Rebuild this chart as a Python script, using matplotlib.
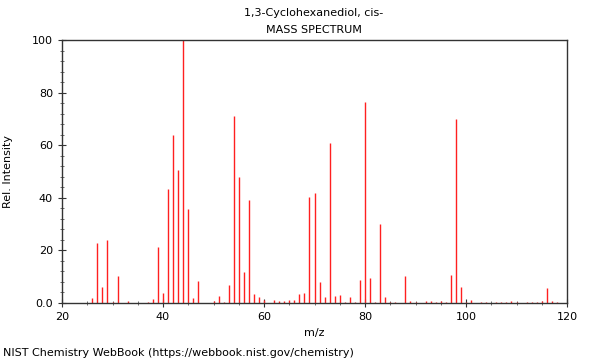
import matplotlib
matplotlib.use("Agg")
from matplotlib import pyplot as plt
from matplotlib.ticker import MultipleLocator, FixedLocator, FixedFormatter

# m/z peaks and relative intensities
mz = [26, 27, 28, 29, 30, 31, 33, 37, 38, 39, 40, 41, 42, 43, 44, 45, 46, 47,
      50, 51, 52, 53, 54, 55, 56, 57, 58, 59, 60, 62, 63, 64, 65, 66, 67, 68,
      69, 70, 71, 72, 73, 74, 75, 76, 77, 78, 79, 80, 81, 82, 83, 84, 85, 86,
      88, 89, 90, 92, 93, 94, 95, 96, 97, 98, 99, 100, 101, 103, 104, 106,
      107, 108, 109, 110, 112, 113, 114, 115, 116, 117, 118]
intensity = [2.0, 22.9, 6.2, 24.0, 0.5, 10.4, 0.8, 0.5, 1.4, 21.3, 3.9, 43.3,
             63.9, 50.6, 100.0, 35.7, 1.8, 8.5,
             0.9, 2.8, 0.5, 6.8, 71.1, 48.0, 11.8, 39.2, 3.5, 2.2, 1.1, 1.0,
             0.8, 0.6, 1.1, 1.1, 3.3, 3.8,
             40.3, 41.9, 8.1, 2.4, 60.7, 2.7, 2.9, 0.5, 2.4, 0.5, 8.9, 76.5,
             9.5, 0.5, 30.0, 2.2, 0.3, 0.5,
             10.4, 0.7, 0.3, 0.7, 0.7, 0.4, 0.8, 0.4, 10.6, 69.8, 6.0, 0.4,
             1.3, 0.3, 0.5, 0.5,
             0.4, 0.5, 0.8, 0.4, 0.5, 0.5, 0.5, 0.9, 5.7, 0.8, 0.4]

y_ticks = [0, 20, 40, 60, 80, 100]
y_labels = ["0.0", "20", "40", "60", "80", "100"]

fig = plt.figure(figsize=(6.0, 3.6), dpi=100)
ax = fig.add_axes([62 / 600, 1 - 303 / 360, 505 / 600, 263 / 360])

ax.vlines(mz, 0, intensity, color="#ff2020", linewidth=1.0)

ax.set_xlim(20, 120)
ax.set_ylim(0, 100)
ax.xaxis.set_major_locator(MultipleLocator(20))
ax.xaxis.set_minor_locator(MultipleLocator(5))
ax.yaxis.set_major_locator(FixedLocator(y_ticks))
ax.yaxis.set_major_formatter(FixedFormatter(y_labels))
ax.yaxis.set_minor_locator(MultipleLocator(4))
ax.tick_params(which="major", direction="inout", length=6, width=0.8,
               labelsize=8, color="#333333")
ax.tick_params(which="minor", direction="inout", length=3, width=0.6,
               color="#555555")
for s in ax.spines.values():
    s.set_color("#333333")
    s.set_linewidth(1.0)

ax.set_xlabel("m/z", fontsize=8, labelpad=4)
ax.set_ylabel("Rel. Intensity", fontsize=8, labelpad=14)

fig.text(314 / 600, 1 - 13 / 360, "1,3-Cyclohexanediol, cis-", fontsize=8,
         ha="center", va="center")
fig.text(314 / 600, 1 - 30 / 360, "MASS SPECTRUM", fontsize=8,
         ha="center", va="center")
fig.text(3 / 600, 1 - 353 / 360,
         "NIST Chemistry WebBook (https://webbook.nist.gov/chemistry)",
         fontsize=8, ha="left", va="center")

plt.savefig("out.png", dpi=100)
plt.close()
